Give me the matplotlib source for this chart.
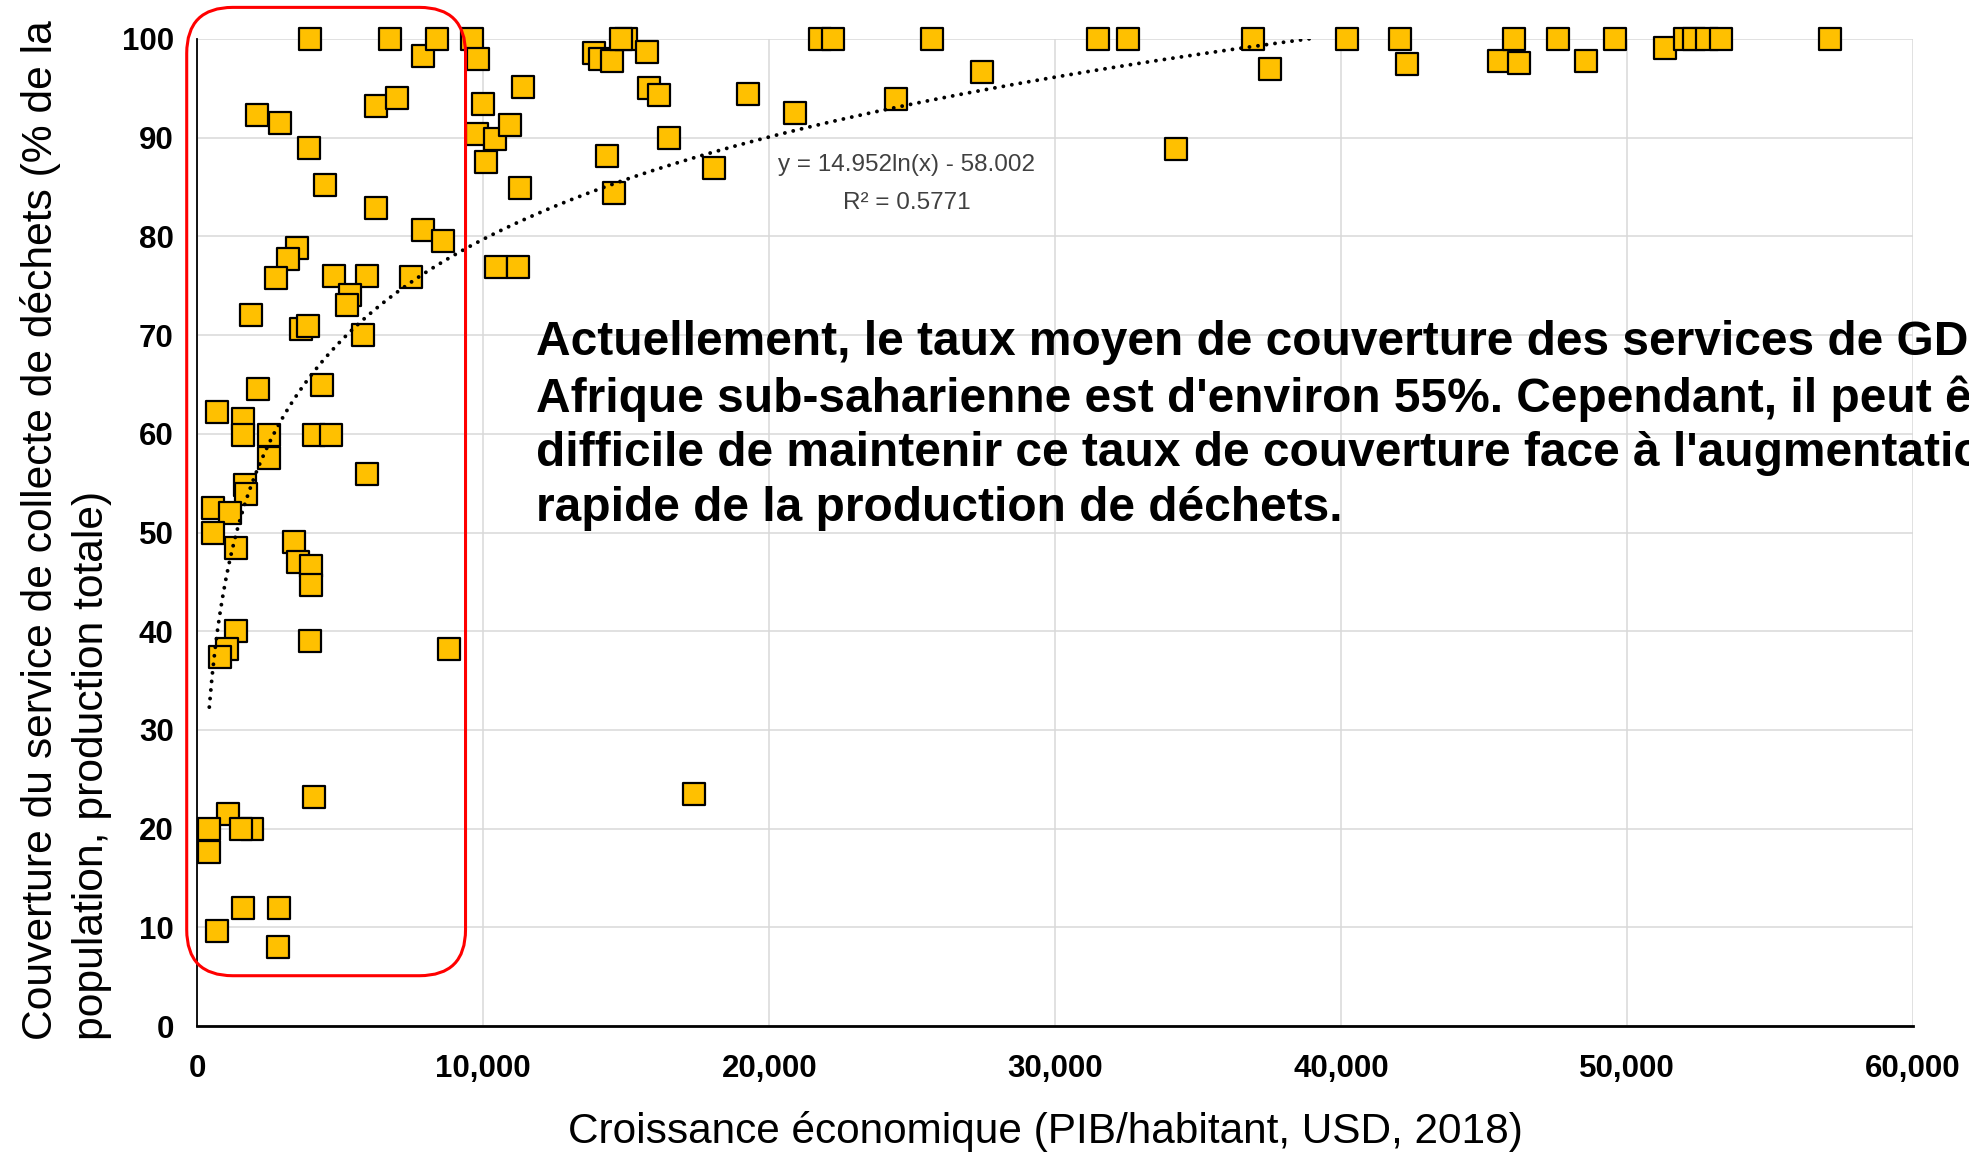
import numpy as np
import matplotlib
matplotlib.use("Agg")
import matplotlib.pyplot as plt
from matplotlib.patches import FancyBboxPatch
from matplotlib.transforms import IdentityTransform
from matplotlib.ticker import FuncFormatter

plt.rcParams['font.family'] = ['Liberation Sans', 'DejaVu Sans']

# GDP per capita (USD, 2018) and waste collection coverage (%)
gdp = [3930, 6728, 7906, 8395, 9620, 9806, 2087, 2903, 3918, 4454,
       6238, 6973, 6250, 7894, 8605, 10004, 9771, 10412, 10097, 3498,
       3160, 2752, 4781, 5923, 5340, 5224, 7486, 1877, 3615, 3871,
       5807, 2134, 4361, 676, 1609, 1609, 2495, 4081, 4676, 2495,
       5923, 1679, 1690, 536, 1143, 536, 1353, 3393, 3533, 3976,
       3976, 1341, 1038, 793, 3953, 8792, 4093, 1084, 420, 1901,
       1516, 420, 1597, 2868, 688, 2822, 11373, 10933, 11268, 10436,
       11212, 13875, 14074, 14515, 14984, 14800, 15721, 15787, 16161, 14316,
       16497, 14585, 18062, 19264, 20910, 21777, 22245, 24440, 25685, 27425,
       17374, 31490, 32549, 34210, 36912, 37495, 40193, 42052, 42290, 45509,
       46047, 46222, 47581, 48574, 49591, 51342, 52030, 52356, 52790, 53286,
       57110]
coverage = [100, 100, 98.3, 100, 100, 98.0, 92.3, 91.5, 89.0, 85.2,
            93.2, 94.0, 82.9, 80.6, 79.5, 93.4, 90.4, 89.9, 87.5, 78.8,
            77.7, 75.8, 76.0, 76.0, 74.1, 73.0, 75.9, 72.0, 70.6, 70.9,
            70.0, 64.5, 64.9, 62.2, 61.5, 59.9, 59.9, 59.9, 59.9, 57.5,
            55.9, 54.8, 53.9, 52.5, 52.0, 50.0, 48.4, 49.0, 47.0, 46.6,
            44.7, 40.0, 38.2, 37.4, 39.0, 38.2, 23.2, 21.5, 20.0, 20.0,
            20.0, 17.6, 12.0, 12.0, 9.6, 8.0, 95.1, 91.3, 84.9, 76.9,
            76.9, 98.6, 98.0, 97.8, 100, 100, 98.7, 95.0, 94.3, 88.1,
            90.0, 84.4, 86.9, 94.4, 92.5, 100, 100, 93.9, 100, 96.7,
            23.5, 100, 100, 88.9, 100, 97.0, 100, 100, 97.5, 97.8,
            100, 97.6, 100, 97.8, 100, 99.1, 100, 100, 100, 100,
            100]

# logarithmic trend (Excel fit)
trend_a, trend_b = 14.952, -58.002
trend_r2 = 0.5771
trend_x_min, trend_x_max = 420, 39000

x_ticks = [0, 10000, 20000, 30000, 40000, 50000, 60000]
y_ticks = [0, 10, 20, 30, 40, 50, 60, 70, 80, 90, 100]

# highlighted low-income group (data coordinates)
box_x = (-370, 9380)
box_y = (5.1, 103.2)

note = ("Actuellement, le taux moyen de couverture des services de GDS en\n"
        "Afrique sub-saharienne est d'environ 55%. Cependant, il peut être\n"
        "difficile de maintenir ce taux de couverture face à l'augmentation\n"
        "rapide de la production de déchets.")

fig = plt.figure(figsize=(19.69, 11.53), dpi=100)
ax = fig.add_axes([0.1002, 0.1101, 0.8714, 0.8561])

ax.scatter(gdp, coverage, marker='s', s=16 ** 2, facecolor='#FFC000',
           edgecolor='black', linewidths=1.6, zorder=3, clip_on=False)

tx = np.linspace(trend_x_min, trend_x_max, 400)
ax.plot(tx, trend_a * np.log(tx) + trend_b, color='black', lw=2.8,
        linestyle=(0, (0.01, 2.2)), dash_capstyle='round', zorder=4)

ax.set_xlim(0, 60000)
ax.set_ylim(0, 100)
ax.set_xticks(x_ticks)
ax.set_yticks(y_ticks)
ax.xaxis.set_major_formatter(FuncFormatter(lambda v, p: f"{int(v):,}"))
ax.grid(True, color='#D9D9D9', lw=1.1, zorder=0)
ax.set_axisbelow(True)
ax.tick_params(length=0, labelsize=22.5)
ax.tick_params(axis='x', pad=20)
ax.tick_params(axis='y', pad=17)
for lab in ax.get_xticklabels() + ax.get_yticklabels():
    lab.set_fontweight('bold')
for s in ('top', 'right'):
    ax.spines[s].set_visible(False)
ax.spines['left'].set_linewidth(1.3)
ax.spines['bottom'].set_linewidth(2.0)

fig.text(0.4606, 0.8405, f"y = {trend_a}ln(x) - {abs(trend_b):.3f}\nR² = {trend_r2}",
         ha='center', va='center', fontsize=17.5, color='#404040',
         linespacing=1.95,
         family=['Liberation Sans Narrow', 'Liberation Sans', 'DejaVu Sans'])

fig.text(0.2722, 0.7225, note, ha='left', va='top', fontsize=34.5,
         fontweight='bold', linespacing=1.28)

fig.text(0.531, 0.0185, "Croissance économique (PIB/habitant, USD, 2018)",
         ha='center', va='center', fontsize=30.5)
fig.text(0.0335, 0.098,
         "Couverture du service de collecte de déchets (% de la\npopulation, production totale)",
         rotation=90, ha='center', va='bottom', multialignment='left',
         fontsize=30.7, linespacing=1.36)

# rounded red frame around the low-income countries, drawn in pixels
(x0, y0), (x1, y1) = ax.transData.transform([(box_x[0], box_y[0]), (box_x[1], box_y[1])])
frame = FancyBboxPatch((x0, y0), x1 - x0, y1 - y0,
                       boxstyle="round,pad=0,rounding_size=46",
                       transform=IdentityTransform(), fill=False,
                       edgecolor='#FF0000', lw=2.2, zorder=5)
fig.patches.append(frame)

fig.savefig("out.png", dpi=100)
